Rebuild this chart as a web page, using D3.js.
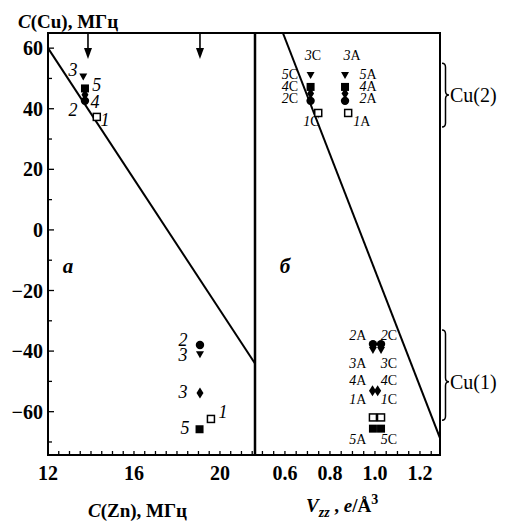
<!DOCTYPE html>
<html><head><meta charset="utf-8">
<script src="https://cdn.jsdelivr.net/npm/d3@7"></script>
<style>body{margin:0;background:#fff}svg{display:block}text{font-family:"Liberation Serif","Times New Roman",serif;fill:#000}</style>
</head><body><svg id="c" width="505" height="522"></svg>
<script>
// ---------- data ----------
const znTicks = [12, 16, 20];
const vTicks = [0.6, 0.8, 1.0, 1.2];
const cuTicks = [60, 40, 20, 0, -20, -40, -60];

// left panel: C(Zn) vs C(Cu)
const leftZn  = [13.64, 13.72, 13.72, 13.72, 14.27, 19.07, 19.07, 19.07, 19.05, 19.58];
const leftCu  = [50.5, 46.7, 44.6, 42.6, 37.3, -38.0, -41.2, -53.8, -65.8, -62.4];
const leftMk  = ["tri","fsq","dia","circ","osq","circ","tri","dia","fsq","osq"];
const leftLabText = ["3","5","4","2","1","2","3","3","5","1"];
const leftLabZn   = [13.16,14.27,14.19,13.16,14.65,18.28,18.28,18.28,18.37,20.14];
const leftLabCu   = [52.7,47.8,42.3,39.5,36.2,-36.4,-41.4,-53.4,-65.4,-60.0];
const leftFit = [[12, 60], [21.63, -44.1]];
const arrowZn = [13.86, 19.07];

// right panel: Vzz vs C(Cu)
const rightV  = [0.714,0.714,0.714,0.714,0.748, 0.867,0.867,0.867,0.867,0.881,
                 0.991,1.027,0.991,1.027,0.989,1.012,0.991,1.027,0.991,1.027];
const rightCu = [51.0,47.2,45.0,42.6,38.6, 51.0,47.2,45.0,42.6,38.6,
                 -37.7,-37.7,-39.8,-39.8,-53.1,-53.1,-61.9,-61.9,-65.6,-65.6];
const rightMk = ["tri","fsq","dia","circ","osq","tri","fsq","dia","circ","osq",
                 "circ","circ","tri","tri","dia","dia","osq","osq","fsq","fsq"];
const rightLabNum = ["3","5","4","2","1","3","5","4","2","1","2","2","3","3","4","4","1","1","5","5"];
const rightLabSite= ["C","C","C","C","C","A","A","A","A","A","A","C","A","C","A","C","A","C","A","C"];
const rightLabV   = [0.724,0.622,0.622,0.622,0.718,0.898,0.969,0.969,0.969,0.942,
                     0.924,1.062,0.924,1.062,0.924,1.062,0.924,1.062,0.924,1.062];
const rightLabCu  = [57.7,51.4,47.4,43.4,35.9,57.7,51.4,47.4,43.4,35.9,
                     -34.7,-34.7,-44.0,-44.0,-49.6,-49.6,-55.8,-55.8,-69.0,-69.0];
const rightFit = [[0.591, 65], [1.289, -68.7]];

const braceNames = ["Cu(2)", "Cu(1)"];
const braceFrom  = [55, -33];
const braceTo    = [34, -62.8];
const braceTip   = [44.5, -50.1];

// ---------- layout ----------
const svg = d3.select("#c");
const L = 48, M = 255, R = 440, T = 33, B = 455;
const y = d3.scaleLinear().domain([-74.3, 65]).range([B, T]);
const xZn = d3.scaleLinear().domain([12, 21.63]).range([L, M]);
const xV = d3.scaleLinear().domain([0.467, 1.289]).range([M, R]);

const line = (xs) => d3.line().x(d => xs(d[0])).y(d => y(d[1]));

// clip paths
const defs = svg.append("defs");
defs.append("clipPath").attr("id","cl").append("rect").attr("x",L).attr("y",T).attr("width",M-L).attr("height",B-T);
defs.append("clipPath").attr("id","cr").append("rect").attr("x",M).attr("y",T).attr("width",R-M).attr("height",B-T);

// fit lines
svg.append("path").attr("d", line(xZn)(leftFit)).attr("clip-path","url(#cl)")
  .attr("stroke","#000").attr("stroke-width",2).attr("fill","none");
svg.append("path").attr("d", line(xV)(rightFit)).attr("clip-path","url(#cr)")
  .attr("stroke","#000").attr("stroke-width",2).attr("fill","none");

// ticks (inward)
const tk = svg.append("g").attr("stroke","#000").attr("stroke-width",1.3);
d3.range(-70, 61, 10).forEach(v => {
  const len = v % 20 === 0 ? 6 : 4;
  tk.append("line").attr("x1",L).attr("x2",L+len).attr("y1",y(v)).attr("y2",y(v));
});
d3.range(12, 21.6, 0.5).forEach(v => {
  tk.append("line").attr("x1",xZn(v)).attr("x2",xZn(v)).attr("y1",B).attr("y2",B-4);
});
d3.range(0.5, 1.29, 0.05).forEach(v => {
  tk.append("line").attr("x1",xV(v)).attr("x2",xV(v)).attr("y1",B).attr("y2",B-4);
});

// frame
svg.append("rect").attr("x",L).attr("y",T).attr("width",R-L).attr("height",B-T)
  .attr("fill","none").attr("stroke","#000").attr("stroke-width",2);
svg.append("line").attr("x1",M).attr("x2",M).attr("y1",T).attr("y2",B)
  .attr("stroke","#000").attr("stroke-width",2.5);

// tick labels
const tl = svg.append("g").style("font-size","20px").style("font-weight","bold");
cuTicks.forEach(v => tl.append("text").attr("x",L-5).attr("y",y(v)).attr("text-anchor","end")
  .attr("dominant-baseline","central").text(v < 0 ? "\u2212" + (-v) : v));
znTicks.forEach(v => tl.append("text").attr("x",xZn(v)).attr("y",480).attr("text-anchor","middle").text(v));
vTicks.forEach(v => tl.append("text").attr("x",xV(v)).attr("y",480).attr("text-anchor","middle").text(v.toFixed(1)));

// markers
function marker(g, kind, cx, cy) {
  if (kind === "tri") g.append("path").attr("d",`M${cx-4},${cy-3.5}L${cx+4},${cy-3.5}L${cx},${cy+3.5}Z`).attr("fill","#000");
  else if (kind === "fsq") g.append("rect").attr("x",cx-4).attr("y",cy-4).attr("width",8).attr("height",8).attr("fill","#000");
  else if (kind === "osq") g.append("rect").attr("x",cx-3.5).attr("y",cy-3.5).attr("width",7).attr("height",7).attr("fill","#fff").attr("stroke","#000").attr("stroke-width",1.5);
  else if (kind === "circ") g.append("circle").attr("cx",cx).attr("cy",cy).attr("r",4.2).attr("fill","#000");
  else if (kind === "dia") g.append("path").attr("d",`M${cx},${cy-5.5}L${cx+3.5},${cy}L${cx},${cy+5.5}L${cx-3.5},${cy}Z`).attr("fill","#000");
}
const mg = svg.append("g");
leftZn.forEach((v,i) => marker(mg, leftMk[i], xZn(v), y(leftCu[i])));
rightV.forEach((v,i) => marker(mg, rightMk[i], xV(v), y(rightCu[i])));

// point labels
const pl = svg.append("g");
leftLabText.forEach((t,i) => pl.append("text").attr("x",xZn(leftLabZn[i])).attr("y",y(leftLabCu[i]))
  .attr("text-anchor","middle").attr("dominant-baseline","central")
  .style("font-size","18px").style("font-style","italic").text(t));
rightLabNum.forEach((t,i) => {
  const tx = pl.append("text").attr("x",xV(rightLabV[i])).attr("y",y(rightLabCu[i]))
    .attr("text-anchor","middle").attr("dominant-baseline","central").style("font-size","14px");
  tx.append("tspan").style("font-style","italic").text(t);
  tx.append("tspan").text(rightLabSite[i]);
});

// arrows
arrowZn.forEach(v => {
  const ax = xZn(v);
  svg.append("line").attr("x1",ax).attr("x2",ax).attr("y1",T).attr("y2",T+17).attr("stroke","#000").attr("stroke-width",1.6);
  svg.append("path").attr("d",`M${ax-4},${T+15}L${ax+4},${T+15}L${ax},${T+26}Z`).attr("fill","#000");
});

// panel letters
svg.append("text").attr("x",68).attr("y",y(-12)).attr("text-anchor","middle").attr("dominant-baseline","central")
  .style("font-size","21px").style("font-style","italic").style("font-weight","bold").text("а");
svg.append("text").attr("x",285).attr("y",y(-12)).attr("text-anchor","middle").attr("dominant-baseline","central")
  .style("font-size","21px").style("font-style","italic").style("font-weight","bold").text("б");

// braces
braceNames.forEach((n,i) => {
  const x0 = 442, w = 7, y1 = y(braceFrom[i]), y2 = y(braceTo[i]), ym = y(braceTip[i]), r = 4;
  const xm = x0 + w/2;
  const d = `M${x0},${y1}Q${xm},${y1} ${xm},${y1+r}L${xm},${ym-r}Q${xm},${ym} ${x0+w},${ym}` +
            `Q${xm},${ym} ${xm},${ym+r}L${xm},${y2-r}Q${xm},${y2} ${x0},${y2}`;
  svg.append("path").attr("d",d).attr("fill","none").attr("stroke","#000").attr("stroke-width",1.5);
  svg.append("text").attr("x",450).attr("y",ym).attr("dominant-baseline","central")
    .style("font-size","20px").text(n);
});

// axis titles
const t1 = svg.append("text").attr("x",18).attr("y",28).style("font-size","19px").style("font-weight","bold");
t1.append("tspan").style("font-style","italic").text("C");
t1.append("tspan").text("(Cu), МГц");
const t2 = svg.append("text").attr("x",88).attr("y",517).style("font-size","19px").style("font-weight","bold");
t2.append("tspan").style("font-style","italic").text("C");
t2.append("tspan").text("(Zn), МГц");
const t3 = svg.append("text").attr("x",306).attr("y",512).style("font-size","19px").style("font-weight","bold");
t3.append("tspan").style("font-style","italic").text("V");
t3.append("tspan").attr("dy",5).style("font-size","14px").style("font-style","italic").text("zz");
t3.append("tspan").attr("dy",-5).text(" , ");
t3.append("tspan").style("font-style","italic").text("e");
t3.append("tspan").text("/Å");
t3.append("tspan").attr("dy",-8).style("font-size","14px").text("3");
</script></body></html>
